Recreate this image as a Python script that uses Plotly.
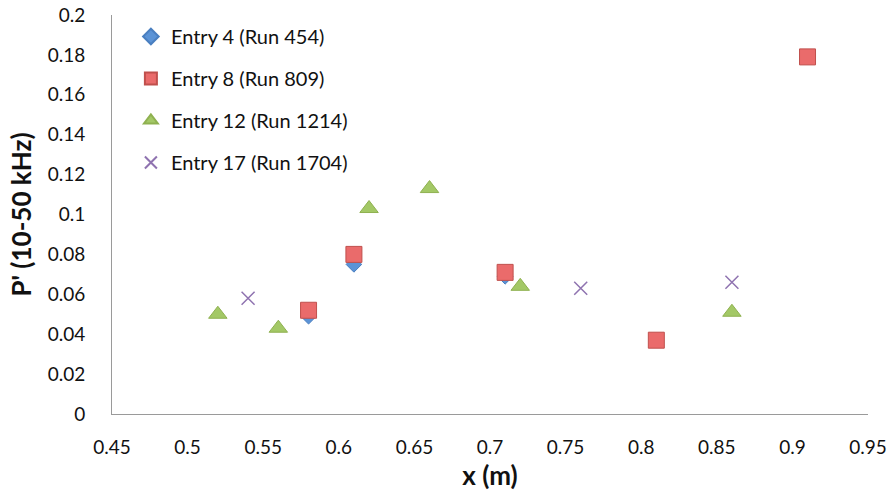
import plotly.graph_objects as go

# Measured fluctuation levels along the plate
series_names = ["Entry 4 (Run 454)", "Entry 8 (Run 809)", "Entry 12 (Run 1214)", "Entry 17 (Run 1704)"]

x_e4 = [0.58, 0.61, 0.71]
y_e4 = [0.049, 0.075, 0.069]

x_e8 = [0.58, 0.61, 0.71, 0.81, 0.91]
y_e8 = [0.052, 0.080, 0.071, 0.037, 0.179]

x_e12 = [0.52, 0.56, 0.62, 0.66, 0.72, 0.86]
y_e12 = [0.050, 0.043, 0.103, 0.113, 0.064, 0.051]

x_e17 = [0.54, 0.76, 0.86]
y_e17 = [0.058, 0.063, 0.066]

x_ticks = [0.45, 0.5, 0.55, 0.6, 0.65, 0.7, 0.75, 0.8, 0.85, 0.9, 0.95]
y_ticks = [0, 0.02, 0.04, 0.06, 0.08, 0.1, 0.12, 0.14, 0.16, 0.18, 0.2]

FONT = "Lato"

fig = go.Figure()
styles = [
    (x_e4, y_e4, dict(symbol="diamond", size=12, color="#5b93d6", line=dict(color="#4a7fc0", width=1))),
    (x_e8, y_e8, dict(symbol="square", size=16, color="#ea6b6b", line=dict(color="#c0504d", width=1))),
    (x_e12, y_e12, dict(symbol="triangle-up", size=16, color="#a3c866", line=dict(color="#8fb150", width=1))),
    (x_e17, y_e17, dict(symbol="x-thin", size=13, color="#8f73b0", line=dict(color="#8f73b0", width=1.5))),
]
for name, (xs, ys, mk) in zip(series_names, styles):
    fig.add_trace(go.Scatter(x=xs, y=ys, mode="markers", name=name, marker=mk,
                             legendgroup=name))

fig.update_layout(
    width=888, height=503,
    margin=dict(l=112, r=20, t=15, b=89),
    paper_bgcolor="white", plot_bgcolor="white",
    font=dict(family=FONT, size=19, color="#111111"),
    showlegend=True,
    legend=dict(x=0.025, y=0.995, xanchor="left", yanchor="top",
                bgcolor="rgba(0,0,0,0)", tracegroupgap=13,
                font=dict(family=FONT, size=20, color="#111111"),
                itemsizing="constant", itemwidth=30),
    xaxis=dict(range=[0.45, 0.95], tickvals=x_ticks,
               ticktext=[f"{v:g}" for v in x_ticks], automargin=False,
               ticklabeloverflow="allow",
               showgrid=False, zeroline=False, showline=True,
               linecolor="#9a9a9a", linewidth=1, ticks="", ticklabelstandoff=16,
               title=dict(text="<b>x (m)</b>", font=dict(family=FONT, size=26), standoff=10)),
    yaxis=dict(range=[0, 0.2], tickvals=y_ticks,
               ticktext=[f"{v:g}" for v in y_ticks], automargin=False,
               ticklabeloverflow="allow",
               showgrid=False, zeroline=False, showline=True,
               linecolor="#9a9a9a", linewidth=1, ticks="", ticklabelstandoff=22,
               title=dict(text="<b>P' (10-50 kHz)</b>", font=dict(family=FONT, size=26), standoff=8)),
)

fig.write_html("out.html")
